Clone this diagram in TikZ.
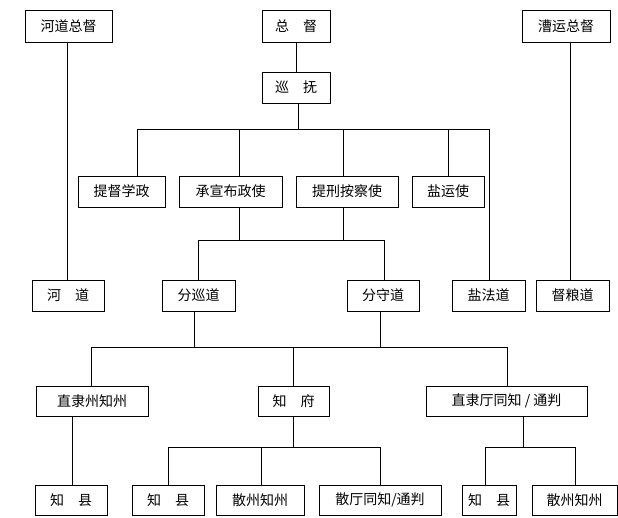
\documentclass[tikz,border=0pt]{standalone}
\usepackage{fontspec}
\newfontfamily\cjk{Noto Sans CJK SC}
\begin{document}
\begin{tikzpicture}[x=1pt,y=-1pt,
  box/.style={draw,line width=0.8pt,inner sep=0pt,font=\cjk\fontsize{14}{16}\selectfont},
  ln/.style={line width=0.7pt}]
\useasboundingbox (0,0) rectangle (618,517);
\newcommand\bx[6]{\node[box,minimum width={#4-#2},minimum height={#5-#3}] (#1) at ({(#2+#4)/2},{(#3+#5)/2}) {#6};}
\bx{hdzd}{25}{10}{112}{42}{河道总督}
\bx{zd}{262}{10}{330}{42}{总\quad 督}
\bx{cyzd}{522}{10}{610}{42}{漕运总督}
\bx{xf}{262}{72}{330}{103}{巡\quad 抚}
\bx{tdxz}{78}{176}{165}{207}{提督学政}
\bx{cx}{179}{176}{282}{207}{承宣布政使}
\bx{tx}{296}{176}{398}{207}{提刑按察使}
\bx{yys}{412}{176}{484}{207}{盐运使}
\bx{hd}{32}{280}{104}{311}{河\quad 道}
\bx{fxd}{162}{280}{235}{311}{分巡道}
\bx{fsd}{347}{280}{419}{311}{分守道}
\bx{yfd}{452}{280}{525}{311}{盐法道}
\bx{dld}{536}{280}{609}{311}{督粮道}
\bx{zlz}{36}{386}{148}{416}{直隶州知州}
\bx{zf}{258}{386}{329}{416}{知\quad 府}
\bx{zlt}{426}{386}{587}{416}{直隶厅同知 / 通判}
\bx{zx1}{35}{485}{107}{515}{知\quad 县}
\bx{zx2}{132}{485}{204}{515}{知\quad 县}
\bx{szz1}{216}{485}{304}{515}{散州知州}
\bx{st}{319}{485}{441}{515}{散厅同知/通判}
\bx{zx3}{462}{485}{516}{515}{知\quad 县}
\bx{szz2}{532}{485}{617}{515}{散州知州}
\coordinate (h1) at (0,129);
\coordinate (h2) at (0,240);
\coordinate (h3) at (0,347);
\coordinate (h4) at (0,447);
% top
\draw[ln] (zd) -- (xf);
\draw[ln] (hdzd.south -| 67,0) -- (hd.north -| 67,0);
\draw[ln] (cyzd.south -| 570,0) -- (dld.north -| 570,0);
\draw[ln] (xf.south -| 298,0) -- (298,129);
\draw[ln] (137,129) -- (489,129);
\draw[ln] (137,129) -- (tdxz.north -| 137,0);
\draw[ln] (239,129) -- (cx.north -| 239,0);
\draw[ln] (343,129) -- (tx.north -| 343,0);
\draw[ln] (448,129) -- (yys.north -| 448,0);
\draw[ln] (489,129) -- (yfd.north -| 489,0);
% daos
\draw[ln] (cx.south -| 239,0) -- (239,240);
\draw[ln] (tx.south -| 343,0) -- (343,240);
\draw[ln] (198,240) -- (384,240);
\draw[ln] (198,240) -- (fxd.north -| 198,0);
\draw[ln] (384,240) -- (fsd.north -| 384,0);
% level 3
\draw[ln] (fxd.south -| 194,0) -- (194,347);
\draw[ln] (fsd.south -| 380,0) -- (380,347);
\draw[ln] (91,347) -- (507,347);
\draw[ln] (91,347) -- (zlz.north -| 91,0);
\draw[ln] (293,347) -- (zf.north -| 293,0);
\draw[ln] (507,347) -- (zlt.north -| 507,0);
% level 4
\draw[ln] (zlz.south -| 72,0) -- (zx1.north -| 72,0);
\draw[ln] (zf.south -| 293,0) -- (293,447);
\draw[ln] (168,447) -- (380,447);
\draw[ln] (168,447) -- (zx2.north -| 168,0);
\draw[ln] (261,447) -- (szz1.north -| 261,0);
\draw[ln] (380,447) -- (st.north -| 380,0);
\draw[ln] (zlt.south -| 523,0) -- (523,447);
\draw[ln] (485,447) -- (575,447);
\draw[ln] (485,447) -- (zx3.north -| 485,0);
\draw[ln] (575,447) -- (szz2.north -| 575,0);
\end{tikzpicture}
\end{document}
